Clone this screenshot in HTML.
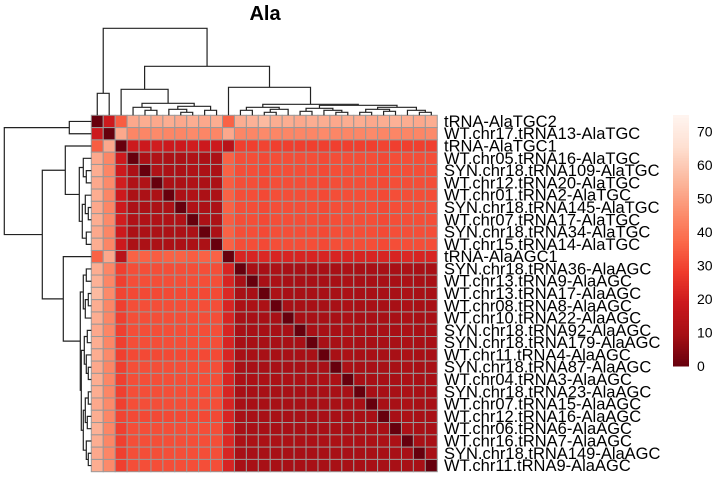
<!DOCTYPE html>
<html><head><meta charset="utf-8"><style>
html,body{margin:0;padding:0;background:#fff;}
svg{display:block;font-family:"Liberation Sans",sans-serif;}
</style></head><body>
<svg id="chart" width="720" height="480" viewBox="0 0 720 480" xmlns="http://www.w3.org/2000/svg">
<text x="265" y="20" text-anchor="middle" font-size="20" font-weight="bold">Ala</text>
<g id="cells"></g>
<g id="labels"></g>
<g id="dendTop"></g>
<g id="dendLeft"></g>
<g id="legend"></g>
</svg>
<script>
const labels = ["tRNA-AlaTGC2","WT.chr17.tRNA13-AlaTGC","tRNA-AlaTGC1","WT.chr05.tRNA16-AlaTGC","SYN.chr18.tRNA109-AlaTGC","WT.chr12.tRNA20-AlaTGC","WT.chr01.tRNA2-AlaTGC","SYN.chr18.tRNA145-AlaTGC","WT.chr07.tRNA17-AlaTGC","SYN.chr18.tRNA34-AlaTGC","WT.chr15.tRNA14-AlaTGC","tRNA-AlaAGC1","SYN.chr18.tRNA36-AlaAGC","WT.chr13.tRNA9-AlaAGC","WT.chr13.tRNA17-AlaAGC","WT.chr08.tRNA8-AlaAGC","WT.chr10.tRNA22-AlaAGC","SYN.chr18.tRNA92-AlaAGC","SYN.chr18.tRNA179-AlaAGC","WT.chr11.tRNA4-AlaAGC","SYN.chr18.tRNA87-AlaAGC","WT.chr04.tRNA3-AlaAGC","SYN.chr18.tRNA23-AlaAGC","WT.chr07.tRNA15-AlaAGC","WT.chr12.tRNA16-AlaAGC","WT.chr06.tRNA6-AlaAGC","WT.chr16.tRNA7-AlaAGC","SYN.chr18.tRNA149-AlaAGC","WT.chr11.tRNA9-AlaAGC"];
const rowA = [0,19,35,52,53,52,53,52,53,52,53,36,53,54,56,53,53,52,53,53,52,53,53,52,53,54,53,52,53];
const rowB = [19,0,52,44,44,45,44,44,45,44,44,52,44,44,45,44,44,44,44,45,44,44,44,45,44,44,44,44,45];
const rowC = [35,52,0,19,19,20,19,19,20,19,19,14,29,29,30,29,29,29,29,29,29,29,29,29,30,29,29,29,29];
const rowD = [36,52,14,36,36,35,36,36,35,36,36,0,22,22,23,22,22,22,22,22,22,22,22,22,22,22,23,22,22];
const tgcInner = [11,11,12,11,11,12,11,11];
const agcInner = [10,10,10,11,10,10,10,10,10,11,10,10,10,10,11,10,10];
const tgcToAgc = [32,32,31,32,32,32,32,31,32,32,32,32,31,32,32,32,32];
const ticks = [0,10,20,30,40,50,60,70];
const vmax = 75;
const tree = [87,[22,0,1],[49,[26,2,[12,[8,3,[5,4,5]],[9,[6,6,[3,7,8]],[5,9,10]]]],[28,11,[11,[8,[5,12,13],[6,[3,14,15],16]],[10,[7,[4,17,18],[5,19,[3,20,21]]],[8,[6,[3,22,23],[4,24,25]],[5,26,[3,27,28]]]]]]]];

const n = labels.length;
function val(i,j){
  if(i===j) return 0;
  if(i>j){const t=i;i=j;j=t;}
  if(i===0) return rowA[j];
  if(i===1) return rowB[j];
  if(i===2) return rowC[j];
  if(i===11) return rowD[j];
  if(j===11) return rowD[i];
  if(i>=3 && i<=10){
    if(j<=10) return tgcInner[j-3];
    return tgcToAgc[j-12];
  }
  return agcInner[j-12];
}
const pal = ["#67000D","#A50F15","#CB181D","#EF3B2C","#FB6A4A","#FC9272","#FCBBA1","#FEE0D2","#FFF5F0"];
function hex(c){return [1,3,5].map(k=>parseInt(c.substr(k,2),16));}
function color(v){
  if(typeof v!=='number'||isNaN(v)) v=0;
  let t=Math.max(0,Math.min(1,v/vmax))*(pal.length-1);
  let k=Math.min(pal.length-2,Math.floor(t)),f=t-k;
  const a=hex(pal[k]),b=hex(pal[k+1]);
  return "rgb("+a.map((x,q)=>Math.round(x+(b[q]-x)*f)).join(",")+")";
}
const NS="http://www.w3.org/2000/svg";
const x0=91.3,y0=115.3,cw=11.93,ch=12.29;
const xs=i=>x0+i*cw, ys=i=>y0+i*ch;
const cells=document.getElementById('cells');
for(let i=0;i<n;i++)for(let j=0;j<n;j++){
  const r=document.createElementNS(NS,'rect');
  r.setAttribute('x',xs(j));r.setAttribute('y',ys(i));
  r.setAttribute('width',cw);r.setAttribute('height',ch);
  r.setAttribute('fill',color(val(i,j)));r.setAttribute('stroke','#999');r.setAttribute('stroke-width','1');
  
  
  cells.appendChild(r);
}
const lg=document.getElementById('labels');
labels.forEach((l,i)=>{
  const t=document.createElementNS(NS,'text');
  t.setAttribute('x',444);t.setAttribute('y',ys(i)+ch/2+5.5);t.setAttribute('font-size','16.5');
  t.textContent=l;
  
  
  lg.appendChild(t);
});
function layout(node){
  if(typeof node==='number') return {pos:node+0.5,h:0};
  const a=layout(node[1]),b=layout(node[2]);
  segs.push([a.pos,a.h,b.pos,b.h,node[0]]);
  return {pos:(a.pos+b.pos)/2,h:node[0]};
}
const segs=[];layout(tree);
const dt=document.getElementById('dendTop'),dl=document.getElementById('dendLeft');
function path(g,d,name){
  const p=document.createElementNS(NS,'path');
  p.setAttribute('d',d);p.setAttribute('fill','none');p.setAttribute('stroke','#222');p.setAttribute('stroke-width','1.2');
  
  
  g.appendChild(p);
}
segs.forEach(s=>{
  const [p1,h1,p2,h2,h]=s;
  const xa=x0+p1*cw,xb=x0+p2*cw;
  path(dt,`M${xa},${y0-h1}V${y0-h}H${xb}V${y0-h2}`,'column-dendrogram-branch');
  const ya=y0+p1*ch,yb=y0+p2*ch;
  path(dl,`M${x0-h1},${ya}H${x0-h}V${yb}H${x0-h2}`,'row-dendrogram-branch');
});
const leg=document.getElementById('legend');
const lx=673,lw=16,lTop=115,lBot=366;
const ly=v=>lBot-(v/vmax)*(lBot-lTop);
for(let k=0;k<100;k++){
  const v0=k*vmax/100,v1=(k+1)*vmax/100;
  const r=document.createElementNS(NS,'rect');
  r.setAttribute('x',lx);r.setAttribute('y',ly(v1));r.setAttribute('width',lw);r.setAttribute('height',ly(v0)-ly(v1)+0.5);
  r.setAttribute('fill',color((v0+v1)/2));
  
  
  leg.appendChild(r);
}
ticks.forEach(v=>{
  const t=document.createElementNS(NS,'text');
  t.setAttribute('x',697);t.setAttribute('y',ly(v)+5);t.setAttribute('font-size','14');
  t.textContent=v;
  
  
  leg.appendChild(t);
});
</script>
</body></html>
